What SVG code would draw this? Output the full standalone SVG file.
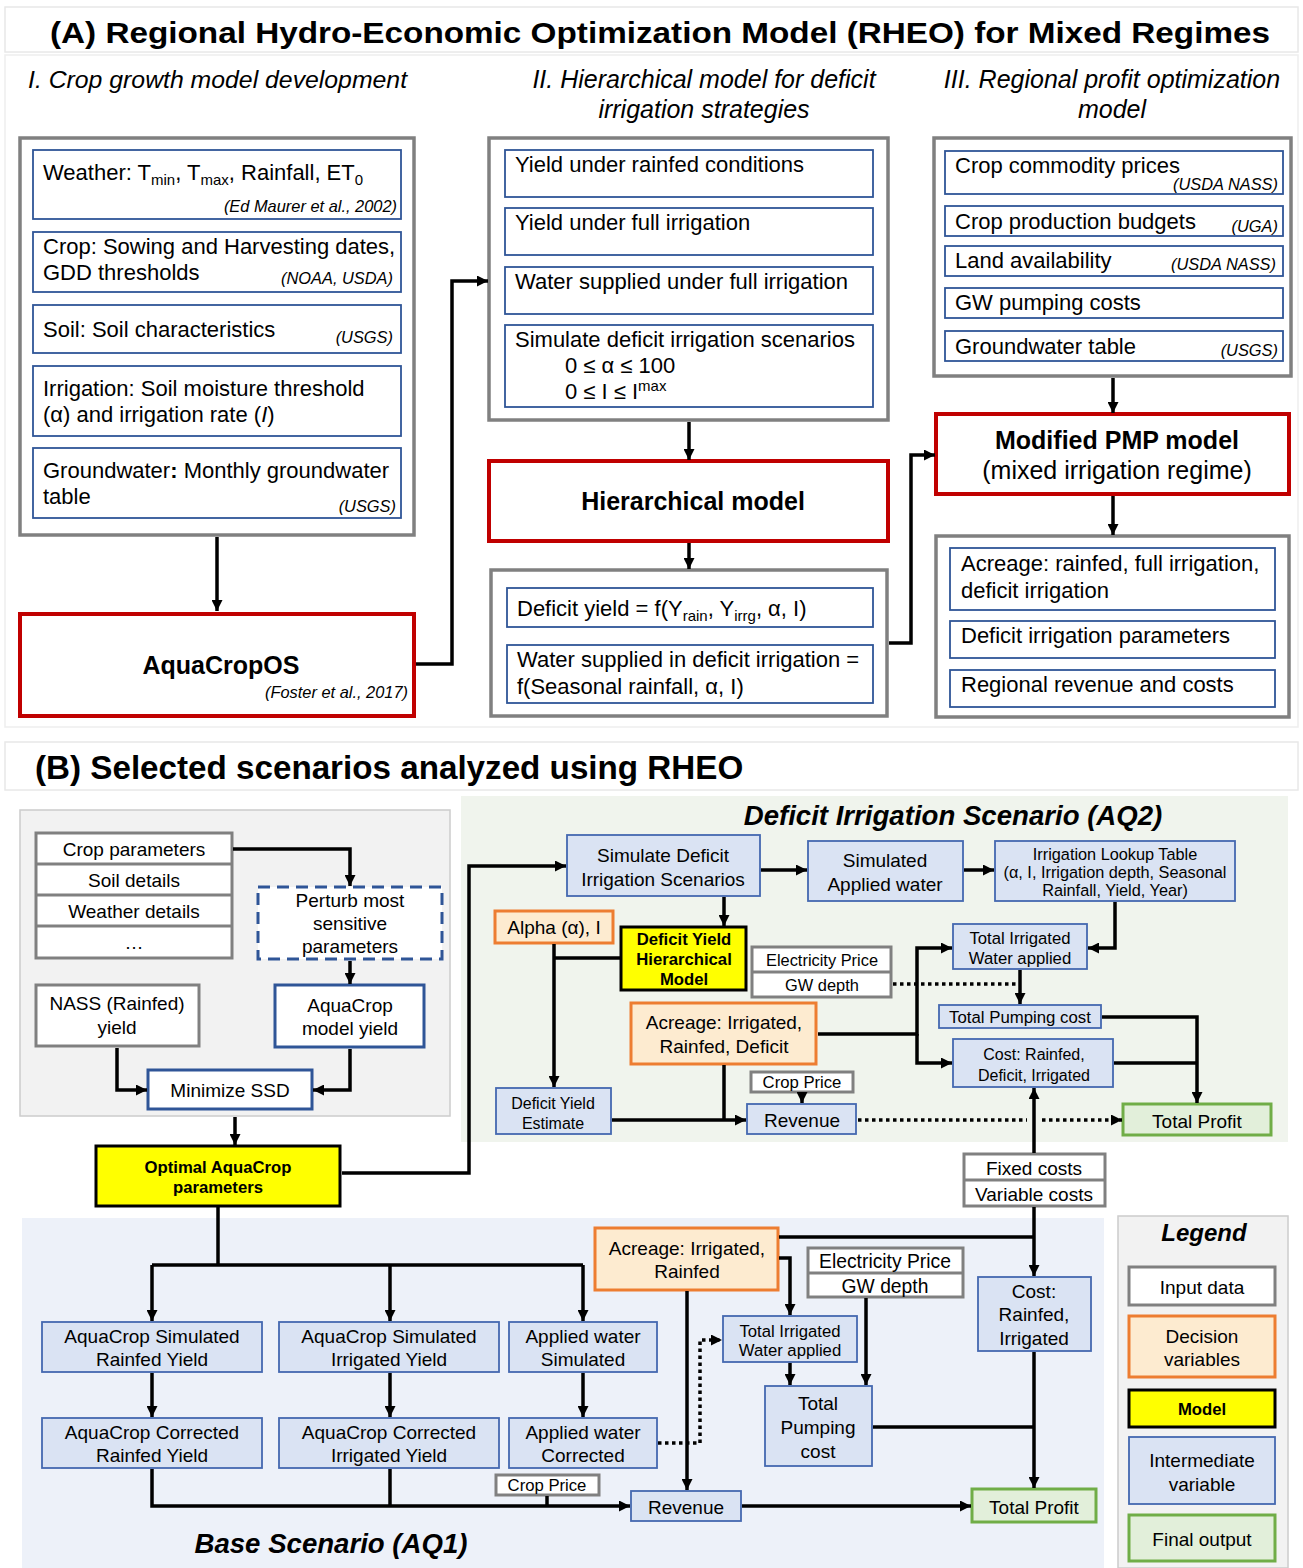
<svg xmlns="http://www.w3.org/2000/svg" width="1303" height="1568" viewBox="0 0 1303 1568">
<defs>
<style>
text{font-family:"Liberation Sans",Arial,sans-serif;fill:#000}
.c{text-anchor:middle}
.e{text-anchor:end}
.i{font-style:italic}
.b{font-weight:bold}
.f22{font-size:22px}
.f19{font-size:19px}
.f17{font-size:16.7px}
.f16{font-size:16px}
.src{font-size:16.4px;font-style:italic;text-anchor:end}
.grayA{fill:#fff;stroke:#808080;stroke-width:3.5}
.blueA{fill:#fff;stroke:#2F5597;stroke-width:1.8}
.red{fill:#fff;stroke:#C00000;stroke-width:4}
.inp{fill:#fff;stroke:#808080;stroke-width:3}
.dec{fill:#fdebd0;stroke:#ED7D31;stroke-width:3}
.mod{fill:#ffff00;stroke:#000;stroke-width:3}
.int{fill:#dae3f3;stroke:#4468b0;stroke-width:1.8}
.fin{fill:#e2efda;stroke:#70AD47;stroke-width:3}
.ln{fill:none;stroke:#000;stroke-width:3.5}
.dot{stroke-dasharray:3.5 3.5}
</style>
<marker id="ah" viewBox="0 0 10 10" refX="10" refY="5" markerWidth="11" markerHeight="11" markerUnits="userSpaceOnUse" orient="auto"><path d="M0,0 L10,5 L0,10 z" fill="#000"/></marker>
</defs>
<rect width="1303" height="1568" fill="#fff"/>

<!-- Panel backgrounds -->
<g id="panels">
<rect x="5" y="7" width="1293" height="45" fill="#fff" stroke="#e8e8e8" stroke-width="1.5"/>
<rect x="5" y="55" width="1293" height="672" fill="#fff" stroke="#eeeeee" stroke-width="1.5"/>
<rect x="5" y="742" width="1293" height="48" fill="#fff" stroke="#e8e8e8" stroke-width="1.5"/>
<rect x="20" y="810" width="430" height="306" fill="#f2f2f2" stroke="#cccccc" stroke-width="1.5"/>
<rect x="461" y="796" width="827" height="346" fill="#f0f4ed"/>
<rect x="22" y="1218" width="1082" height="350" fill="#edf1f9"/>
<rect x="1118" y="1216" width="170" height="352" fill="#f2f2f2" stroke="#cccccc" stroke-width="1.5"/>
</g>

<!-- Titles -->
<g id="titles">
<text x="660" y="43" class="c b" font-size="30" textLength="1220" lengthAdjust="spacingAndGlyphs">(A) Regional Hydro-Economic Optimization Model (RHEO) for Mixed Regimes</text>
<text x="28" y="88" class="i" font-size="24.8">I. Crop growth model development</text>
<text x="704" y="88" class="c i" font-size="25">II. Hierarchical model for deficit</text>
<text x="704" y="118" class="c i" font-size="25">irrigation strategies</text>
<text x="1112" y="88" class="c i" font-size="25">III. Regional profit optimization</text>
<text x="1112" y="118" class="c i" font-size="25">model</text>
<text x="35" y="779" class="b" font-size="33.2">(B) Selected scenarios analyzed using RHEO</text>
<text x="953" y="825" class="c b i" font-size="27.6">Deficit Irrigation Scenario (AQ2)</text>
<text x="331" y="1553" class="c b i" font-size="27.6">Base Scenario (AQ1)</text>
</g>

<!-- Column I -->
<g id="colI">
<rect x="20" y="138" width="394" height="397" class="grayA"/>
<rect x="33" y="150" width="368" height="69" class="blueA"/>
<text x="43" y="180" class="f22">Weather: T<tspan font-size="15" dy="5">min</tspan><tspan dy="-5">, T</tspan><tspan font-size="15" dy="5">max</tspan><tspan dy="-5">, Rainfall, ET</tspan><tspan font-size="15" dy="5">0</tspan></text>
<text x="397" y="212" class="src">(Ed Maurer et al., 2002)</text>
<rect x="33" y="232" width="368" height="60" class="blueA"/>
<text x="43" y="254" class="f22">Crop: Sowing and Harvesting dates,</text>
<text x="43" y="280" class="f22">GDD thresholds</text>
<text x="393" y="284" class="src">(NOAA, USDA)</text>
<rect x="33" y="305" width="368" height="48" class="blueA"/>
<text x="43" y="337" class="f22">Soil: Soil characteristics</text>
<text x="393" y="343" class="src">(USGS)</text>
<rect x="33" y="366" width="368" height="70" class="blueA"/>
<text x="43" y="396" class="f22">Irrigation: Soil moisture threshold</text>
<text x="43" y="422" class="f22">(α) and irrigation rate (<tspan class="i">I</tspan>)</text>
<rect x="33" y="448" width="368" height="70" class="blueA"/>
<text x="43" y="478" class="f22">Groundwater<tspan class="b">:</tspan> Monthly groundwater</text>
<text x="43" y="504" class="f22">table</text>
<text x="396" y="512" class="src">(USGS)</text>
</g>
<g id="aquacropos">
<rect x="20" y="614" width="394" height="102" class="red"/>
<text x="221" y="674" class="c b" font-size="25">AquaCropOS</text>
<text x="408" y="698" class="src">(Foster et al., 2017)</text>
</g>

<!-- Column II -->
<g id="colII">
<rect x="489" y="138" width="399" height="282" class="grayA"/>
<rect x="505" y="150" width="368" height="47" class="blueA"/>
<text x="515" y="172" class="f22">Yield under rainfed conditions</text>
<rect x="505" y="208" width="368" height="47" class="blueA"/>
<text x="515" y="230" class="f22">Yield under full irrigation</text>
<rect x="505" y="267" width="368" height="47" class="blueA"/>
<text x="515" y="289" class="f22">Water supplied under full irrigation</text>
<rect x="505" y="325" width="368" height="82" class="blueA"/>
<text x="515" y="347" class="f22">Simulate deficit irrigation scenarios</text>
<text x="565" y="373" class="f22">0 ≤ α ≤ 100</text>
<text x="565" y="399" class="f22">0 ≤ I ≤ I<tspan font-size="15" dy="-8">max</tspan></text>
</g>
<g id="hierarchical">
<rect x="489" y="461" width="399" height="80" class="red"/>
<text x="693" y="510" class="c b" font-size="25">Hierarchical model</text>
</g>
<g id="deficitOut">
<rect x="491" y="570" width="396" height="146" class="grayA"/>
<rect x="507" y="588" width="366" height="39" class="blueA"/>
<text x="517" y="616" class="f22">Deficit yield = f(Y<tspan font-size="15" dy="5">rain</tspan><tspan dy="-5">, Y</tspan><tspan font-size="15" dy="5">irrg</tspan><tspan dy="-5">, α, I)</tspan></text>
<rect x="507" y="645" width="366" height="58" class="blueA"/>
<text x="517" y="667" class="f22">Water supplied in deficit irrigation =</text>
<text x="517" y="694" class="f22">f(Seasonal rainfall, α, I)</text>
</g>

<!-- Column III -->
<g id="colIII">
<rect x="934" y="138" width="357" height="238" class="grayA"/>
<rect x="945" y="151" width="338" height="43" class="blueA"/>
<text x="955" y="173" class="f22">Crop commodity prices</text>
<text x="1278" y="190" class="src">(USDA NASS)</text>
<rect x="945" y="206" width="338" height="30" class="blueA"/>
<text x="955" y="229" class="f22">Crop production budgets</text>
<text x="1278" y="232" class="src">(UGA)</text>
<rect x="945" y="246" width="338" height="30" class="blueA"/>
<text x="955" y="268" class="f22">Land availability</text>
<text x="1276" y="270" class="src">(USDA NASS)</text>
<rect x="945" y="288" width="338" height="30" class="blueA"/>
<text x="955" y="310" class="f22">GW pumping costs</text>
<rect x="945" y="331" width="338" height="30" class="blueA"/>
<text x="955" y="354" class="f22">Groundwater table</text>
<text x="1278" y="356" class="src">(USGS)</text>
</g>
<g id="pmp">
<rect x="936" y="414" width="353" height="80" class="red"/>
<text x="1117" y="449" class="c b" font-size="25">Modified PMP model</text>
<text x="1117" y="479" class="c" font-size="25">(mixed irrigation regime)</text>
</g>
<g id="pmpOut">
<rect x="936" y="536" width="353" height="181" class="grayA"/>
<rect x="950" y="548" width="325" height="62" class="blueA"/>
<text x="961" y="571" class="f22">Acreage: rainfed, full irrigation,</text>
<text x="961" y="598" class="f22">deficit irrigation</text>
<rect x="950" y="621" width="325" height="37" class="blueA"/>
<text x="961" y="643" class="f22">Deficit irrigation parameters</text>
<rect x="950" y="670" width="325" height="37" class="blueA"/>
<text x="961" y="692" class="f22">Regional revenue and costs</text>
</g>

<!-- B: calibration -->
<g id="inputStack">
<rect x="36" y="833" width="196" height="125" class="inp"/>
<line x1="36" y1="864" x2="232" y2="864" stroke="#808080" stroke-width="3"/>
<line x1="36" y1="895" x2="232" y2="895" stroke="#808080" stroke-width="3"/>
<line x1="36" y1="926" x2="232" y2="926" stroke="#808080" stroke-width="3"/>
<text x="134" y="856" class="c f19">Crop parameters</text>
<text x="134" y="887" class="c f19">Soil details</text>
<text x="134" y="918" class="c f19">Weather details</text>
<text x="134" y="949" class="c f19">…</text>
</g>
<g id="perturb">
<rect x="258" y="887" width="184" height="72" fill="#fff" stroke="#2F5597" stroke-width="3" stroke-dasharray="12 7"/>
<text x="350" y="907" class="c f19">Perturb most</text>
<text x="350" y="930" class="c f19">sensitive</text>
<text x="350" y="953" class="c f19">parameters</text>
</g>
<g id="nass">
<rect x="36" y="985" width="163" height="61" class="inp"/>
<text x="117" y="1010" class="c f19">NASS (Rainfed)</text>
<text x="117" y="1034" class="c f19">yield</text>
</g>
<g id="aquacropYield">
<rect x="275" y="985" width="149" height="62" fill="#fff" stroke="#2F5597" stroke-width="3"/>
<text x="350" y="1012" class="c f19">AquaCrop</text>
<text x="350" y="1035" class="c f19">model yield</text>
</g>
<g id="minSSD">
<rect x="148" y="1070" width="164" height="39" fill="#fff" stroke="#2F5597" stroke-width="3"/>
<text x="230" y="1097" class="c f19">Minimize SSD</text>
</g>
<g id="optimal">
<rect x="96" y="1146" width="244" height="60" class="mod"/>
<text x="218" y="1173" class="c b f17">Optimal AquaCrop</text>
<text x="218" y="1193" class="c b f17">parameters</text>
</g>

<!-- B: AQ2 -->
<g id="simDeficit">
<rect x="567" y="835" width="193" height="61" class="int"/>
<text x="663" y="862" class="c f19">Simulate Deficit</text>
<text x="663" y="886" class="c f19">Irrigation Scenarios</text>
</g>
<g id="simApplied">
<rect x="808" y="841" width="155" height="60" class="int"/>
<text x="885" y="867" class="c f19">Simulated</text>
<text x="885" y="891" class="c f19">Applied water</text>
</g>
<g id="lookup">
<rect x="995" y="841" width="240" height="60" class="int"/>
<text x="1115" y="860" class="c" font-size="16.3">Irrigation Lookup Table</text>
<text x="1115" y="878" class="c" font-size="16.3">(α, I, Irrigation depth, Seasonal</text>
<text x="1115" y="896" class="c" font-size="16.3">Rainfall, Yield, Year)</text>
</g>
<g id="alpha">
<rect x="495" y="911" width="118" height="32" class="dec"/>
<text x="554" y="934" class="c f19">Alpha (α), I</text>
</g>
<g id="dyhm">
<rect x="621" y="927" width="125" height="63" class="mod"/>
<text x="684" y="945" class="c b f17">Deficit Yield</text>
<text x="684" y="965" class="c b f17">Hierarchical</text>
<text x="684" y="985" class="c b f17">Model</text>
</g>
<g id="elecGW2">
<rect x="752" y="947" width="139" height="50" class="inp"/>
<line x1="752" y1="972" x2="891" y2="972" stroke="#808080" stroke-width="3"/>
<text x="822" y="966" class="c" font-size="16.4">Electricity Price</text>
<text x="822" y="991" class="c" font-size="16.4">GW depth</text>
</g>
<g id="totIrr2">
<rect x="953" y="924" width="134" height="45" class="int"/>
<text x="1020" y="944" class="c f17">Total Irrigated</text>
<text x="1020" y="964" class="c f17">Water applied</text>
</g>
<g id="totPump2">
<rect x="939" y="1005" width="162" height="23" class="int"/>
<text x="1020" y="1023" class="c" font-size="16.8">Total Pumping cost</text>
</g>
<g id="acreage2">
<rect x="631" y="1003" width="185" height="61" class="dec"/>
<text x="724" y="1029" class="c f19">Acreage: Irrigated,</text>
<text x="724" y="1053" class="c f19">Rainfed, Deficit</text>
</g>
<g id="cost2">
<rect x="953" y="1039" width="160" height="48" class="int"/>
<text x="1034" y="1060" class="c f16">Cost: Rainfed,</text>
<text x="1034" y="1081" class="c f16">Deficit, Irrigated</text>
</g>
<g id="dyEst">
<rect x="496" y="1088" width="115" height="46" class="int"/>
<text x="553" y="1109" class="c f16">Deficit Yield</text>
<text x="553" y="1129" class="c f16">Estimate</text>
</g>
<g id="cropPrice2">
<rect x="751" y="1072" width="102" height="20" class="inp"/>
<text x="802" y="1088" class="c f17">Crop Price</text>
</g>
<g id="revenue2">
<rect x="747" y="1104" width="109" height="30" class="int"/>
<text x="802" y="1127" class="c f19">Revenue</text>
</g>
<g id="profit2">
<rect x="1123" y="1104" width="148" height="31" class="fin"/>
<text x="1197" y="1128" class="c f19">Total Profit</text>
</g>
<g id="fixedVar">
<rect x="964" y="1154" width="141" height="52" class="inp"/>
<line x1="964" y1="1180" x2="1105" y2="1180" stroke="#808080" stroke-width="3"/>
<text x="1034" y="1175" class="c f19">Fixed costs</text>
<text x="1034" y="1201" class="c f19">Variable costs</text>
</g>

<!-- B: AQ1 -->
<g id="simRain">
<rect x="42" y="1322" width="220" height="50" class="int"/>
<text x="152" y="1343" class="c f19">AquaCrop Simulated</text>
<text x="152" y="1366" class="c f19">Rainfed Yield</text>
</g>
<g id="simIrr">
<rect x="279" y="1322" width="220" height="50" class="int"/>
<text x="389" y="1343" class="c f19">AquaCrop Simulated</text>
<text x="389" y="1366" class="c f19">Irrigated Yield</text>
</g>
<g id="appSim">
<rect x="509" y="1322" width="148" height="50" class="int"/>
<text x="583" y="1343" class="c f19">Applied water</text>
<text x="583" y="1366" class="c f19">Simulated</text>
</g>
<g id="corRain">
<rect x="42" y="1418" width="220" height="50" class="int"/>
<text x="152" y="1439" class="c f19">AquaCrop Corrected</text>
<text x="152" y="1462" class="c f19">Rainfed Yield</text>
</g>
<g id="corIrr">
<rect x="279" y="1418" width="220" height="50" class="int"/>
<text x="389" y="1439" class="c f19">AquaCrop Corrected</text>
<text x="389" y="1462" class="c f19">Irrigated Yield</text>
</g>
<g id="appCor">
<rect x="509" y="1418" width="148" height="50" class="int"/>
<text x="583" y="1439" class="c f19">Applied water</text>
<text x="583" y="1462" class="c f19">Corrected</text>
</g>
<g id="cropPrice1">
<rect x="496" y="1475" width="103" height="20" class="inp"/>
<text x="547" y="1491" class="c f17">Crop Price</text>
</g>
<g id="acreage1">
<rect x="595" y="1228" width="183" height="62" class="dec"/>
<text x="687" y="1255" class="c f19">Acreage: Irrigated,</text>
<text x="687" y="1278" class="c f19">Rainfed</text>
</g>
<g id="elecGW1">
<rect x="808" y="1248" width="155" height="49" class="inp"/>
<line x1="808" y1="1273" x2="963" y2="1273" stroke="#808080" stroke-width="3"/>
<text x="885" y="1268" class="c" font-size="19.3">Electricity Price</text>
<text x="885" y="1293" class="c" font-size="19.3">GW depth</text>
</g>
<g id="totIrr1">
<rect x="723" y="1316" width="134" height="46" class="int"/>
<text x="790" y="1337" class="c f17">Total Irrigated</text>
<text x="790" y="1356" class="c f17">Water applied</text>
</g>
<g id="totPump1">
<rect x="765" y="1386" width="107" height="80" class="int"/>
<text x="818" y="1410" class="c f19">Total</text>
<text x="818" y="1434" class="c f19">Pumping</text>
<text x="818" y="1458" class="c f19">cost</text>
</g>
<g id="cost1">
<rect x="978" y="1277" width="113" height="74" class="int"/>
<text x="1034" y="1298" class="c f19">Cost:</text>
<text x="1034" y="1321" class="c f19">Rainfed,</text>
<text x="1034" y="1345" class="c f19">Irrigated</text>
</g>
<g id="revenue1">
<rect x="631" y="1491" width="110" height="30" class="int"/>
<text x="686" y="1514" class="c f19">Revenue</text>
</g>
<g id="profit1">
<rect x="972" y="1489" width="124" height="33" class="fin"/>
<text x="1034" y="1514" class="c f19">Total Profit</text>
</g>

<!-- Legend -->
<g id="legend">
<text x="1204" y="1241" class="c b i" font-size="24">Legend</text>
<rect x="1129" y="1267" width="146" height="38" class="inp"/>
<text x="1202" y="1294" class="c f19">Input data</text>
<rect x="1129" y="1316" width="146" height="61" class="dec"/>
<text x="1202" y="1343" class="c f19">Decision</text>
<text x="1202" y="1366" class="c f19">variables</text>
<rect x="1129" y="1390" width="146" height="37" class="mod"/>
<text x="1202" y="1415" class="c b f17">Model</text>
<rect x="1129" y="1437" width="146" height="67" class="int"/>
<text x="1202" y="1467" class="c f19">Intermediate</text>
<text x="1202" y="1491" class="c f19">variable</text>
<rect x="1129" y="1515" width="146" height="46" class="fin"/>
<text x="1202" y="1546" class="c f19">Final output</text>
</g>

<!-- Connectors -->
<g id="connectors">
<path class="ln" d="M217,537 V611" marker-end="url(#ah)"/>
<path class="ln" d="M416,664 H452 V281 H488" marker-end="url(#ah)"/>
<path class="ln" d="M689,422 V460" marker-end="url(#ah)"/>
<path class="ln" d="M689,543 V569" marker-end="url(#ah)"/>
<path class="ln" d="M889,643 H911 V455 H935" marker-end="url(#ah)"/>
<path class="ln" d="M1113,378 V413" marker-end="url(#ah)"/>
<path class="ln" d="M1113,496 V535" marker-end="url(#ah)"/>

<path class="ln" d="M233,849 H350 V886" marker-end="url(#ah)"/>
<path class="ln" d="M350,961 V984" marker-end="url(#ah)"/>
<path class="ln" d="M117,1048 V1090 H147" marker-end="url(#ah)"/>
<path class="ln" d="M350,1049 V1090 H313" marker-end="url(#ah)"/>
<path class="ln" d="M235,1117 V1145" marker-end="url(#ah)"/>
<path class="ln" d="M342,1173 H469 V866 H566" marker-end="url(#ah)"/>
<path class="ln" d="M761,870 H807" marker-end="url(#ah)"/>
<path class="ln" d="M964,870 H994" marker-end="url(#ah)"/>
<path class="ln" d="M1115,902 V948 H1088" marker-end="url(#ah)"/>
<path class="ln" d="M724,897 V926" marker-end="url(#ah)"/>
<path class="ln" d="M620,958 H554"/>
<path class="ln" d="M554,944 V1087" marker-end="url(#ah)"/>
<path class="ln dot" d="M893,984 H1020"/>
<path class="ln" d="M1020,970 V1004" marker-end="url(#ah)"/>
<path class="ln" d="M818,1034 H917 V948 H952" marker-end="url(#ah)"/>
<path class="ln" d="M917,1034 V1063 H952" marker-end="url(#ah)"/>
<path class="ln" d="M1102,1017 H1197 V1103" marker-end="url(#ah)"/>
<path class="ln" d="M1114,1063 H1197"/>
<path class="ln" d="M802,1093 V1103" marker-end="url(#ah)" stroke-width="2.5"/>
<path class="ln" d="M612,1120 H746" marker-end="url(#ah)"/>
<path class="ln" d="M724,1065 V1120"/>
<path class="ln dot" d="M858,1120 H1027"/>
<path class="ln dot" d="M1042,1120 H1122" marker-end="url(#ah)"/>
<path class="ln" d="M1034,1153 V1088" marker-end="url(#ah)"/>
<path class="ln" d="M1034,1207 V1276" marker-end="url(#ah)"/>
<path class="ln" d="M779,1237 H1034"/>

<path class="ln" d="M218,1207 V1265"/>
<path class="ln" d="M152,1265 H583"/>
<path class="ln" d="M152,1265 V1321" marker-end="url(#ah)"/>
<path class="ln" d="M390,1265 V1321" marker-end="url(#ah)"/>
<path class="ln" d="M583,1265 V1321" marker-end="url(#ah)"/>
<path class="ln" d="M152,1373 V1417" marker-end="url(#ah)"/>
<path class="ln" d="M390,1373 V1417" marker-end="url(#ah)"/>
<path class="ln" d="M583,1373 V1417" marker-end="url(#ah)"/>
<path class="ln" d="M152,1469 V1506 H630" marker-end="url(#ah)"/>
<path class="ln" d="M390,1469 V1506"/>
<path class="ln" d="M547,1496 V1506" stroke-width="2.5"/>
<path class="ln" d="M687,1291 V1490" marker-end="url(#ah)"/>
<path class="ln" d="M779,1258 H790 V1315" marker-end="url(#ah)"/>
<path class="ln dot" d="M658,1443 H700 V1340 H722" marker-end="url(#ah)"/>
<path class="ln" d="M866,1298 V1385" marker-end="url(#ah)"/>
<path class="ln" d="M790,1363 V1385" marker-end="url(#ah)"/>
<path class="ln" d="M873,1427 H1034"/>
<path class="ln" d="M1034,1352 V1488" marker-end="url(#ah)"/>
<path class="ln" d="M742,1506 H971" marker-end="url(#ah)"/>
</g>
</svg>
